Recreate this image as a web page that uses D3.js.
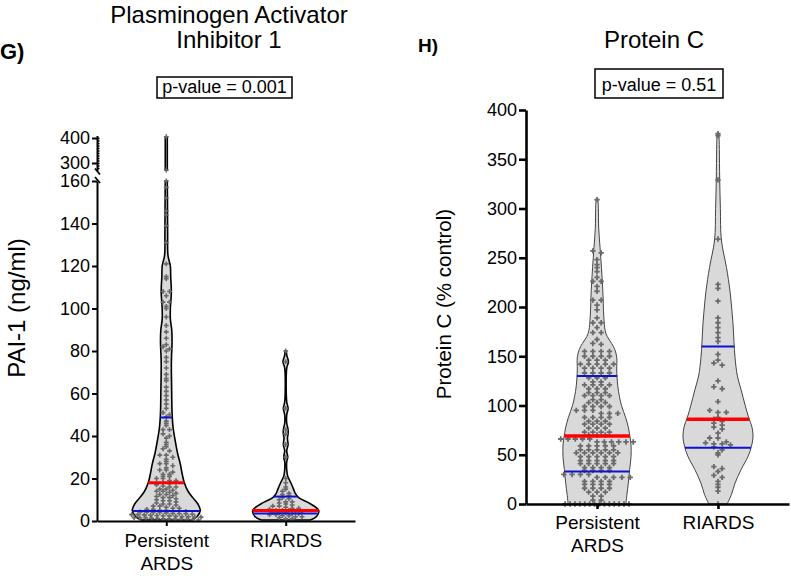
<!DOCTYPE html>
<html>
<head>
<meta charset="utf-8">
<script src="https://cdn.jsdelivr.net/npm/d3@7"></script>
<style>
  body { margin: 0; background: #fff; }
  svg { font-family: "Liberation Sans", Arial, sans-serif; }
</style>
</head>
<body>
<svg id="chart" width="791" height="576"></svg>
<script>
// groups shared by both panels
var groups = ["Persistent ARDS", "RIARDS"];

// ---- panel G: PAI-1 (ng/ml) ----
var paiPersistent = [405, 272,
  160, 157, 152, 146, 144, 139, 131,
  121, 115, 114, 108, 108, 106, 103, 103, 101, 100, 96, 92, 89,
  86, 83, 82, 81, 80, 77, 75, 72, 69, 67, 66, 63, 61, 59, 57, 55, 53, 51, 50, 49,
  47, 46, 45, 43, 43, 41, 40, 39, 37, 36, 35, 34, 33, 31, 31, 30, 29, 28, 27, 27, 26, 25, 24, 24, 23, 22, 22, 21, 21, 20, 20, 19, 19, 18,
  17.5, 17, 16.5, 16, 16, 15, 15, 14.5, 14, 14, 13.5, 13, 12.5, 12.5, 12, 11.5, 11, 11, 10.5, 10, 9.5, 9.5, 9, 8.5, 8, 8, 7.5, 7, 7, 6.5, 6, 6, 5.5, 5.5, 5, 5,
  4.8, 4.6, 4.5, 4.3, 4.2, 4, 4, 3.8, 3.6, 3.5, 3.4, 3.2, 3, 3, 2.9, 2.7, 2.6, 2.5, 2.4, 2.2, 2, 2, 1.9, 1.8, 1.6, 1.5, 1.4, 1.3, 1.2, 1, 1, 0.9, 0.8, 0.7, 0.6, 0.5];
var paiRiards = [80, 75, 53, 43, 41, 36, 30, 20, 18, 16, 15, 14, 13, 12.5, 12, 11, 10.5, 10, 9, 9, 8.5, 8, 7.5, 7, 7, 6.5,
  6, 6, 5.5, 5, 5, 5, 4.5, 4.5, 4, 4, 4, 3.5, 3.5, 3, 3, 2.5, 2.5, 2, 2, 1.5, 1, 1];
// violin outlines: [value, relative width]
var paiShapePersistent = [[0.5, 0.74], [2, 0.9], [5, 1.0], [8, 0.93], [11, 0.78], [14, 0.64], [18, 0.53], [22, 0.47],
  [27, 0.41], [32, 0.33], [38, 0.26], [44, 0.2], [51, 0.17], [60, 0.16], [75, 0.15], [84, 0.17], [90, 0.16],
  [95, 0.12], [100, 0.12], [108, 0.15], [115, 0.13], [120, 0.12], [125, 0.05], [135, 0.04], [150, 0.035], [160, 0.03],
  [272, 0.03], [405, 0.03]];
var paiShapeRiards = [[0.5, 0.72], [2, 0.9], [5, 0.97], [8.5, 0.68], [11, 0.38], [13, 0.28], [15, 0.23], [18, 0.15],
  [21, 0.06], [24, 0.03], [28, 0.03], [30, 0.06], [33, 0.03], [36, 0.07], [39, 0.05], [41, 0.07], [43, 0.07], [46, 0.03],
  [50, 0.03], [53, 0.07], [56, 0.03], [72, 0.03], [75, 0.08], [78, 0.03], [80, 0.02]];
var paiMedian = [18, 5];
var paiQ1 = [4.7, 3.5];
var paiQ3 = [48.7, 11.5];
var paiTicksLow = [0, 20, 40, 60, 80, 100, 120, 140, 160];
var paiTicksHigh = [300, 400];
var paiMinorHigh = [280, 290, 300, 310, 320, 330, 340, 350, 360, 370, 380, 390, 400];

// ---- panel H: Protein C (% control) ----
var pcPersistent = [309, 257, 255, 248, 243, 240, 236, 230, 226, 226, 221, 216, 207, 207, 202, 197, 189, 184, 184, 179, 174, 174, 167, 163, 162,
  155, 155, 155, 155, 150, 150, 150, 150, 146, 146, 146, 142, 142, 142, 142, 142, 138, 138, 138, 138, 133, 133, 133, 133,
  128, 128, 128, 124, 124, 121, 121, 121, 121, 117, 117, 117, 113, 113, 113, 110, 110, 110, 110, 106, 106, 103, 103, 103,
  99, 99, 99, 99, 95, 95, 95, 92, 92, 92, 88, 88, 88, 88, 84, 84, 84, 81, 81, 81, 81, 77, 77, 77, 73, 73, 73, 73, 70, 70, 70,
  66, 66, 66, 66, 66, 63, 63, 63, 63, 63, 63, 59, 59, 59, 59, 59, 55, 55, 55, 55, 55, 52, 52, 52, 52, 52, 52,
  48, 48, 48, 48, 48, 44, 44, 44, 44, 44, 41, 41, 41, 41, 41, 37, 37, 37, 37, 34, 34, 34, 34,
  30, 30, 30, 30, 27, 27, 27, 27, 27, 23, 23, 23, 23, 20, 20, 20, 20, 16, 16, 16, 16, 12, 12, 12, 8, 8, 4, 4,
  0, 0, 0, 0, 0, 0, 0, 0, 0, 0, 0, 0, 0, 0];
var pcRiards = [376, 374, 329, 269, 223, 219, 206, 189, 184, 179, 174, 169, 165, 152, 146, 143, 141, 125, 119, 117, 104, 95, 93, 93,
  88, 86, 84, 82, 80, 78, 76, 72, 67, 67, 63, 62, 61, 61, 60, 58, 55, 52, 50, 38, 36, 33, 29, 27, 23, 20, 17, 13, 0];
var pcShapePersistent = [[0, 0.85], [10, 0.88], [21, 0.92], [35, 0.96], [48, 1.0], [60, 1.0], [68, 0.97], [78, 0.92],
  [88, 0.84], [100, 0.72], [109, 0.66], [120, 0.61], [136, 0.58], [149, 0.58], [157, 0.52], [163, 0.43], [170, 0.3],
  [176, 0.24], [190, 0.2], [217, 0.17], [240, 0.13], [260, 0.09], [280, 0.05], [300, 0.04], [309, 0.03]];
var pcShapeRiards = [[0, 0.27], [10, 0.4], [21, 0.5], [35, 0.68], [48, 0.88], [58, 0.98], [68, 1.03], [78, 1.0],
  [88, 0.9], [100, 0.8], [116, 0.68], [130, 0.57], [149, 0.5], [165, 0.47], [184, 0.44], [200, 0.4], [217, 0.35],
  [240, 0.25], [268, 0.1], [300, 0.07], [330, 0.05], [360, 0.04], [376, 0.03]];
var pcMedian = [69, 86];
var pcQ1 = [33, 57];
var pcQ3 = [130, 160];
var pcTicks = [0, 50, 100, 150, 200, 250, 300, 350, 400];

var svg = d3.select("#chart");
var widthScale = d3.scaleLinear().domain([0, 1]).range([0, 34]);

// half width of a violin at value v
function halfAt(shape, v) {
  var s = d3.scaleLinear().domain(shape.map(d => d[0])).range(shape.map(d => d[1])).clamp(true);
  return widthScale(s(v));
}

// rows of dots side by side, squeezed when a row gets wider than the violin
function swarm(values, y, cx, rowH, gap, shape) {
  var pts = values.map(v => ({v: v, py: y(v)}));
  var rows = d3.group(pts, d => Math.round(d.py / rowH));
  var out = [];
  rows.forEach(function(arr) {
    var maxW = 2 * halfAt(shape, arr[0].v) + 6;
    var g = arr.length > 1 ? Math.min(gap, maxW / (arr.length - 1)) : gap;
    arr.forEach(function(d, i) {
      out.push({x: cx + (i - (arr.length - 1) / 2) * g, y: d.py});
    });
  });
  return out;
}

function violin(g, shape, y, cx, stroke, sw) {
  var area = d3.area()
    .y(d => y(d[0]))
    .x0(d => cx - widthScale(d[1]))
    .x1(d => cx + widthScale(d[1]))
    .curve(d3.curveCatmullRom);
  g.append("path").attr("d", area(shape))
    .attr("fill", "#d9d9d9").attr("stroke", stroke).attr("stroke-width", sw);
}

function dots(g, pts, size) {
  g.selectAll(null).data(pts).enter().append("path")
    .attr("d", d3.symbol(d3.symbolCross, size))
    .attr("transform", d => "translate(" + d.x + "," + d.y + ")")
    .attr("fill", "#6a6a6a");
}

function statLine(g, shape, v, y, cx, color, w) {
  var h = halfAt(shape, v);
  g.append("line").attr("x1", cx - h).attr("x2", cx + h)
    .attr("y1", y(v)).attr("y2", y(v))
    .attr("stroke", color).attr("stroke-width", w);
}

function twoLineLabels(axisG, fontSize, lineGap) {
  axisG.selectAll(".tick text").each(function(d) {
    var t = d3.select(this), words = d.split(" ");
    t.text(null);
    words.forEach(function(w, i) {
      t.append("tspan").attr("x", 0).attr("dy", i === 0 ? "0.71em" : lineGap).text(w);
    });
  }).attr("font-size", fontSize);
}

// =============== panel G ===============
var gL = svg.append("g");
var yLow = d3.scaleLinear().domain([0, 160]).range([521, 181]);
var yHigh = d3.scaleLinear().domain([270, 410]).range([170.5, 135.5]);
var yPai = v => v > 200 ? yHigh(v) : yLow(v);
var xL = d3.scalePoint().domain(groups).range([97, 355]).padding(0.58);

gL.append("text").attr("x", 0).attr("y", 59).attr("font-size", 22).attr("font-weight", "bold").text("G)");
gL.append("text").attr("x", 229).attr("y", 23).attr("text-anchor", "middle").attr("font-size", 24).text("Plasminogen Activator");
gL.append("text").attr("x", 229).attr("y", 48).attr("text-anchor", "middle").attr("font-size", 24).text("Inhibitor 1");
gL.append("rect").attr("x", 157).attr("y", 77).attr("width", 135).attr("height", 21)
  .attr("fill", "none").attr("stroke", "#000").attr("stroke-width", 1.5);
gL.append("text").attr("x", 224.5).attr("y", 93).attr("text-anchor", "middle").attr("font-size", 18).text("p-value = 0.001");
gL.append("text").attr("transform", "translate(25,308) rotate(-90)").attr("text-anchor", "middle")
  .attr("font-size", 24).text("PAI-1 (ng/ml)");

var paiSets = [paiPersistent, paiRiards];
var paiShapes = [paiShapePersistent, paiShapeRiards];
groups.forEach(function(grp, i) {
  var cx = xL(grp), shape = paiShapes[i];
  var low = shape.filter(d => d[0] <= 200), high = shape.filter(d => d[0] > 200);
  violin(gL, low, yLow, cx, "#000", 1.6);
  if (high.length) violin(gL, high, yHigh, cx, "#000", 1.6);
  dots(gL, swarm(paiSets[i], yPai, cx, 3, 6.5, shape), 13);
  statLine(gL, shape, paiQ1[i], yLow, cx, "#1010d0", 2);
  statLine(gL, shape, paiQ3[i], yLow, cx, "#1010d0", 2);
  statLine(gL, shape, paiMedian[i], yLow, cx, "#ff0000", 3);
});

var axL = gL.append("g").attr("transform", "translate(97,0)")
  .call(d3.axisLeft(yLow).tickValues(paiTicksLow).tickSize(5).tickSizeOuter(0).tickPadding(2));
var axLH = gL.append("g").attr("transform", "translate(97,0)")
  .call(d3.axisLeft(yHigh).tickValues(paiTicksHigh).tickSize(5).tickSizeOuter(0).tickPadding(2));
var axLm = gL.append("g").attr("transform", "translate(97,0)")
  .call(d3.axisRight(yHigh).tickValues(paiMinorHigh).tickSize(2.5).tickSizeOuter(0).tickFormat(""));
axLm.select(".domain").remove();
[axL, axLH].forEach(a => {
  a.selectAll("text").attr("font-size", 18).attr("fill", "#000");
  a.selectAll("path,line").attr("stroke", "#000").attr("stroke-width", 2);
});
axLm.selectAll("line").attr("stroke", "#000").attr("stroke-width", 1.5);
// axis break marks
[yHigh(270) + 1, yLow(160) - 1].forEach(function(yy) {
  gL.append("line").attr("x1", 95).attr("x2", 100).attr("y1", yy - 3).attr("y2", yy + 3)
    .attr("stroke", "#000").attr("stroke-width", 1.8);
});

var axLX = gL.append("g").attr("transform", "translate(0,521)")
  .call(d3.axisBottom(xL).tickSize(5).tickSizeOuter(0).tickPadding(8));
axLX.selectAll("path,line").attr("stroke", "#000").attr("stroke-width", 2);
axLX.selectAll("text").attr("fill", "#000");
twoLineLabels(axLX, 19, "1.16em");

// =============== panel H ===============
var gR = svg.append("g");
var yR = d3.scaleLinear().domain([0, 400]).range([504, 110]);
var xR = d3.scalePoint().domain(groups).range([526, 789]).padding(0.587);

gR.append("text").attr("x", 418).attr("y", 52).attr("font-size", 19).attr("font-weight", "bold").text("H)");
gR.append("text").attr("x", 654).attr("y", 48).attr("text-anchor", "middle").attr("font-size", 24).text("Protein C");
gR.append("rect").attr("x", 595).attr("y", 69).attr("width", 128).attr("height", 29)
  .attr("fill", "none").attr("stroke", "#000").attr("stroke-width", 1.5);
gR.append("text").attr("x", 659).attr("y", 91).attr("text-anchor", "middle").attr("font-size", 18).text("p-value = 0.51");
gR.append("text").attr("transform", "translate(451,304) rotate(-90)").attr("text-anchor", "middle")
  .attr("font-size", 20.5).text("Protein C (% control)");

var pcSets = [pcPersistent, pcRiards];
var pcShapes = [pcShapePersistent, pcShapeRiards];
groups.forEach(function(grp, i) {
  var cx = xR(grp), shape = pcShapes[i];
  violin(gR, shape, yR, cx, "#444", 1);
  dots(gR, swarm(pcSets[i], yR, cx, 4, 8.3, shape), 16);
  statLine(gR, shape, pcQ1[i], yR, cx, "#1010d0", 2);
  statLine(gR, shape, pcQ3[i], yR, cx, "#1010d0", 2);
  statLine(gR, shape, pcMedian[i], yR, cx, "#ff0000", 3.5);
});

var axR = gR.append("g").attr("transform", "translate(526,0)")
  .call(d3.axisLeft(yR).tickValues(pcTicks).tickSize(7).tickSizeOuter(0).tickPadding(2));
axR.selectAll("text").attr("font-size", 18).attr("fill", "#000");
axR.selectAll("path,line").attr("stroke", "#000").attr("stroke-width", 2.6);

var axRX = gR.append("g").attr("transform", "translate(0,504)")
  .call(d3.axisBottom(xR).tickSize(5).tickSizeOuter(0).tickPadding(7));
axRX.selectAll("path,line").attr("stroke", "#000").attr("stroke-width", 2.6);
axRX.selectAll("text").attr("fill", "#000");
twoLineLabels(axRX, 19, "1.2em");
</script>
</body>
</html>
